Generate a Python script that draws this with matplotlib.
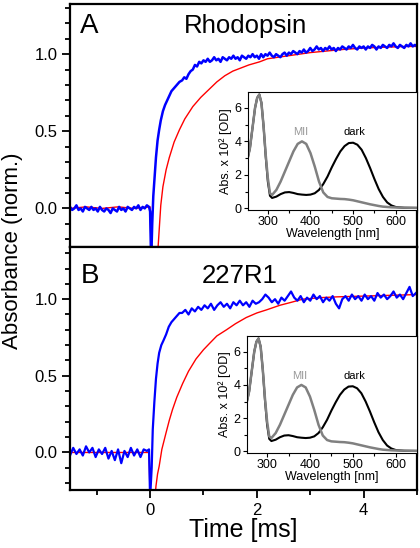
import numpy as np
import matplotlib
matplotlib.use("Agg")
import matplotlib.pyplot as plt
from matplotlib.ticker import MultipleLocator

plt.rcParams['font.family'] = ['Liberation Sans', 'DejaVu Sans']

# ---------------- kinetic traces, panel A (Rhodopsin) ----------------
# blue: baseline sampled every 0.04 ms starting at -1.5 ms
blue_a_base = [0.01, -0.01, 0.00, 0.02, -0.01, 0.00, -0.02, 0.01, 0.00, -0.01,
               0.01, -0.01, 0.00, -0.02, 0.01, -0.01, -0.02, 0.00, -0.01, -0.03,
               0.00, -0.01, -0.02, 0.01, -0.01, 0.00, -0.02, 0.01, 0.00, -0.01,
               0.01, 0.00, 0.02, -0.01, 0.01, 0.00, 0.02, 0.01]
blue_a_rise_t = [0.00, 0.02, 0.04, 0.06, 0.08, 0.11, 0.14, 0.17, 0.20, 0.24,
                 0.28, 0.32, 0.36, 0.40, 0.45, 0.50, 0.55]
blue_a_rise = [-0.02, -0.35, -0.10, 0.08, 0.18, 0.33, 0.44, 0.51, 0.57, 0.63,
               0.67, 0.70, 0.73, 0.76, 0.78, 0.80, 0.82]
# tail sampled every 0.04 ms starting at 0.60 ms
blue_a_tail = [0.83, 0.85, 0.84, 0.87, 0.89, 0.90, 0.93, 0.92, 0.95, 0.94,
               0.96, 0.95, 0.97, 0.95, 0.96, 0.98, 0.96, 0.97, 0.95, 0.98,
               0.97, 0.96, 0.98, 0.97, 0.99, 0.97, 0.98, 0.96, 0.99, 0.98,
               0.97, 0.99, 0.98, 1.00, 0.98, 0.99, 0.97, 1.00, 0.98, 1.00,
               0.99, 1.01, 0.99, 0.98, 1.00, 0.99, 0.98, 1.00, 1.01, 0.99,
               1.01, 1.00, 1.02, 1.01, 1.00, 1.02, 1.01, 1.03, 1.01, 1.02,
               1.04, 1.02, 1.03, 1.05, 1.03, 1.04, 1.02, 1.04, 1.03, 1.05,
               1.03, 1.04, 1.02, 1.04, 1.03, 1.05, 1.04, 1.03, 1.05, 1.04,
               1.06, 1.04, 1.03, 1.05, 1.04, 1.05, 1.03, 1.05, 1.04, 1.06,
               1.05, 1.03, 1.05, 1.04, 1.06, 1.05, 1.04, 1.06, 1.05, 1.07,
               1.05, 1.04, 1.06, 1.05, 1.04, 1.06, 1.05, 1.07, 1.05, 1.06,
               1.05]
red_a_t = [-1.5, -1.2, -0.9, -0.6, -0.3, 0.0, 0.02, 0.13, 0.15, 0.20, 0.24,
           0.30, 0.36, 0.45, 0.55, 0.65, 0.80, 0.95, 1.10, 1.25, 1.40, 1.55,
           1.70, 1.85, 2.05, 2.20, 2.40, 2.60, 2.80, 3.00, 3.30, 3.60, 4.00,
           4.40, 4.80, 5.00]
red_a = [0.00, 0.01, 0.00, 0.01, 0.00, 0.01, -0.30, -0.30, -0.25, 0.02, 0.14,
         0.25, 0.33, 0.43, 0.51, 0.58, 0.66, 0.72, 0.77, 0.82, 0.86, 0.89,
         0.91, 0.93, 0.95, 0.97, 0.98, 0.99, 1.00, 1.01, 1.02, 1.03, 1.04,
         1.045, 1.05, 1.05]

# ---------------- kinetic traces, panel B (227R1) ----------------
# baseline sampled every 0.06 ms starting at -1.5 ms
blue_b_base = [-0.02, 0.03, -0.01, 0.02, -0.02, 0.04, 0.00, 0.03, -0.03, 0.02,
               -0.01, 0.03, -0.04, 0.01, -0.05, 0.02, -0.07, 0.01, -0.03, 0.03,
               -0.02, 0.02, -0.03, 0.02, 0.01]
blue_b_rise_t = [-0.02, 0.00, 0.03, 0.05, 0.08, 0.11, 0.14, 0.17, 0.21, 0.25,
                 0.30, 0.35, 0.40, 0.45, 0.50, 0.55]
blue_b_rise = [0.02, -0.30, -0.10, 0.15, 0.33, 0.48, 0.58, 0.65, 0.70, 0.73,
               0.77, 0.82, 0.85, 0.87, 0.89, 0.91]
# tail sampled every 0.06 ms starting at 0.60 ms
blue_b_tail = [0.91, 0.93, 0.90, 0.94, 0.92, 0.95, 0.93, 0.96, 0.94, 0.97,
               0.93, 0.96, 0.98, 0.95, 0.97, 0.94, 0.98, 0.96, 0.99, 0.96,
               0.98, 0.95, 0.99, 0.97, 0.98, 1.00, 1.03, 1.01, 0.98, 1.00,
               0.97, 1.01, 0.99, 1.02, 1.05, 1.01, 0.99, 1.02, 0.98, 1.01,
               0.99, 1.03, 1.00, 1.02, 0.98, 1.01, 0.99, 1.02, 0.97, 0.94,
               1.00, 1.02, 0.99, 1.03, 1.00, 1.02, 0.99, 1.03, 1.00, 1.02,
               0.99, 1.04, 1.01, 1.03, 1.00, 1.02, 1.05, 1.01, 1.03, 1.00,
               1.04, 1.08, 1.02, 1.04]
red_b_t = [-1.5, -0.02, 0.00, 0.09, 0.11, 0.14, 0.17, 0.22, 0.30, 0.36, 0.42,
           0.50, 0.61, 0.72, 0.86, 1.00, 1.11, 1.25, 1.43, 1.60, 1.80, 2.00,
           2.18, 2.43, 2.65, 2.86, 3.20, 3.50, 4.00, 4.50, 5.00]
red_b = [0.00, 0.00, -0.30, -0.30, -0.22, -0.14, -0.09, 0.02, 0.13, 0.21,
         0.28, 0.36, 0.45, 0.53, 0.61, 0.67, 0.71, 0.76, 0.80, 0.84, 0.88,
         0.91, 0.93, 0.96, 0.98, 1.00, 1.01, 1.015, 1.02, 1.025, 1.03]

# ---------------- inset spectra ----------------
wl = [252, 258, 264, 270, 275, 280, 285, 290, 295, 300, 305, 310, 320, 330,
      340, 350, 360, 370, 380, 390, 400, 410, 420, 430, 440, 450, 460, 470,
      480, 490, 500, 510, 520, 530, 540, 550, 560, 570, 580, 590, 600, 620, 650]
dark = [2.9, 3.6, 4.8, 6.0, 6.6, 6.8, 6.3, 4.9, 3.1, 1.6, 0.75, 0.62, 0.70,
        0.85, 0.95, 0.97, 0.92, 0.85, 0.82, 0.80, 0.82, 0.90, 1.10, 1.45, 1.90,
        2.45, 2.95, 3.40, 3.72, 3.90, 3.92, 3.80, 3.50, 3.00, 2.40, 1.75, 1.15,
        0.68, 0.35, 0.17, 0.08, 0.03, 0.02]
mii = [2.9, 3.6, 4.8, 6.0, 6.6, 6.8, 6.3, 4.9, 3.2, 1.8, 0.9, 0.8, 1.1, 1.6,
       2.2, 2.8, 3.4, 3.85, 4.0, 3.85, 3.3, 2.5, 1.6, 0.95, 0.68, 0.60, 0.58,
       0.56, 0.55, 0.52, 0.48, 0.42, 0.36, 0.30, 0.24, 0.19, 0.14, 0.10, 0.08,
       0.06, 0.05, 0.04, 0.03]


def build(base, base_t0, base_dt, rise_t, rise, tail, tail_t0, tail_dt):
    t = np.concatenate([base_t0 + base_dt * np.arange(len(base)), rise_t,
                        tail_t0 + tail_dt * np.arange(len(tail))])
    y = np.concatenate([base, rise, tail])
    return t, y


def style_main(ax, ylim):
    ax.set_xlim(-1.5, 5.0)
    ax.set_ylim(*ylim)
    ax.xaxis.set_major_locator(MultipleLocator(2))
    ax.xaxis.set_minor_locator(MultipleLocator(1))
    ax.yaxis.set_major_locator(MultipleLocator(0.5))
    ax.yaxis.set_minor_locator(MultipleLocator(0.1))
    ax.yaxis.set_major_formatter(plt.FormatStrFormatter('%.1f'))
    ax.tick_params(which='major', direction='out', length=6, width=1.3,
                   labelsize=12, pad=3)
    ax.tick_params(which='minor', direction='out', length=3.5, width=1.3)
    for s in ax.spines.values():
        s.set_linewidth(1.6)


def draw_inset(rect):
    ins = fig.add_axes(rect)
    ins.plot(wl, dark, color='black', lw=1.5)
    ins.plot(wl, mii, color='#808080', lw=1.8)
    ins.set_xlim(253, 650)
    ins.set_ylim(-0.1, 6.95)
    ins.xaxis.set_major_locator(MultipleLocator(100))
    ins.xaxis.set_minor_locator(MultipleLocator(50))
    ins.yaxis.set_major_locator(MultipleLocator(2))
    ins.yaxis.set_minor_locator(MultipleLocator(1))
    ins.tick_params(which='major', direction='out', length=3, width=0.8,
                    labelsize=9, pad=1.5)
    ins.tick_params(which='minor', direction='out', length=2, width=0.8)
    for s in ins.spines.values():
        s.set_linewidth(0.8)
    ins.set_xlabel('Wavelength [nm]', fontsize=9, labelpad=0)
    ins.set_ylabel('Abs. x 10\u00b2 [OD]', fontsize=9, labelpad=2)
    ins.text(377, 4.25, 'MII', color='#999999', fontsize=8, ha='center',
             va='bottom')
    ins.text(504, 4.25, 'dark', color='black', fontsize=8, ha='center',
             va='bottom')
    return ins


fig = plt.figure(figsize=(4.2, 5.48), dpi=100)
ax_a = fig.add_axes([0.1667, 0.5493, 0.8262, 0.4434])
ax_b = fig.add_axes([0.1667, 0.1058, 0.8262, 0.4434])

ta, ya = build(blue_a_base, -1.5, 0.04, blue_a_rise_t, blue_a_rise,
               blue_a_tail, 0.60, 0.04)
tb, yb = build(blue_b_base, -1.5, 0.06, blue_b_rise_t, blue_b_rise,
               blue_b_tail, 0.60, 0.06)

ax_a.plot(red_a_t, red_a, color='#ff0000', lw=1.0)
ax_a.plot(ta, ya, color='#0000ff', lw=1.8)
ax_b.plot(red_b_t, red_b, color='#ff0000', lw=1.0)
ax_b.plot(tb, yb, color='#0000ff', lw=1.6)

style_main(ax_a, (-0.25, 1.325))
style_main(ax_b, (-0.245, 1.34))
ax_a.tick_params(labelbottom=False)
ax_b.set_xlabel('Time [ms]', fontsize=18, labelpad=0)

ax_a.text(0.03, 0.88, 'A', transform=ax_a.transAxes, fontsize=20)
ax_a.text(0.505, 0.88, 'Rhodopsin', transform=ax_a.transAxes, fontsize=18.5,
          ha='center')
ax_b.text(0.03, 0.852, 'B', transform=ax_b.transAxes, fontsize=20)
ax_b.text(0.49, 0.852, '227R1', transform=ax_b.transAxes, fontsize=18.5,
          ha='center')

fig.text(0.03, 0.542, 'Absorbance (norm.)', rotation=90, fontsize=16,
         ha='center', va='center')

draw_inset([0.590, 0.6168, 0.403, 0.2153])
draw_inset([0.588, 0.1734, 0.405, 0.2135])

fig.savefig('out.png', dpi=100)
